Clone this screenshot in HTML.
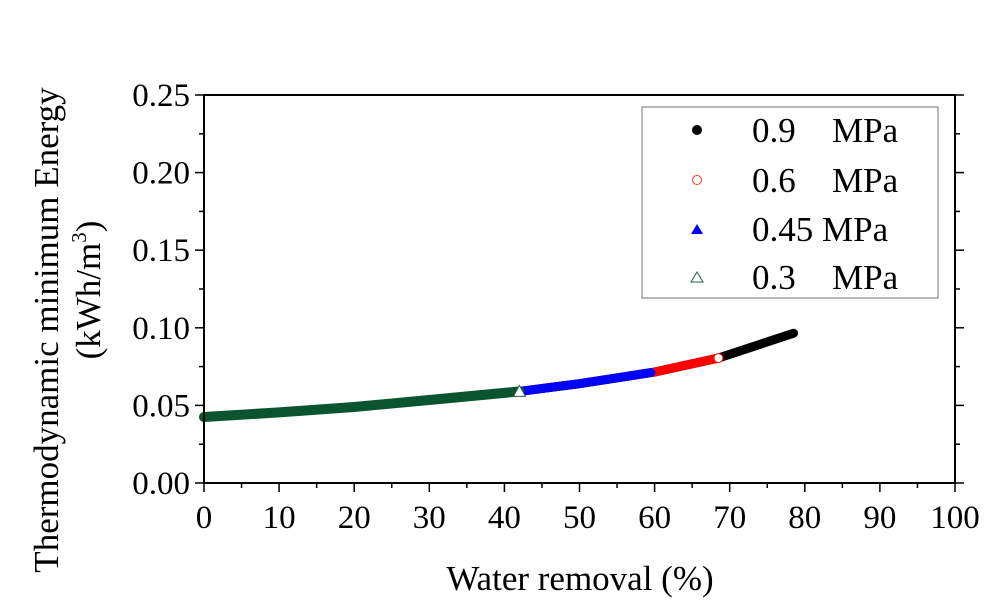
<!DOCTYPE html>
<html><head><meta charset="utf-8"><style>
body{margin:0;background:#fff}
svg{display:block;font-family:"Liberation Serif",serif}
</style></head><body>
<svg id="chart" width="1008" height="614" viewBox="0 0 1008 614" xmlns="http://www.w3.org/2000/svg">
<g id="plot"></g>
<g id="axes"></g>
<text x="580" y="590" font-size="35" text-anchor="middle">Water removal (%)</text>
<text transform="translate(58,330) rotate(-90)" font-size="35" text-anchor="middle">Thermodynamic minimum Energy</text>
<text transform="translate(100,290) rotate(-90)" font-size="35" text-anchor="middle">(kWh/m<tspan font-size="21" dy="-14">3</tspan><tspan dy="14">)</tspan></text>
<g>
<rect x="642" y="107" width="296" height="191" fill="#fff" stroke="#888" stroke-width="1.2"/>
<circle cx="697" cy="130" r="5" fill="#000"/>
<text x="752" y="142" font-size="35">0.9</text><text x="832" y="142" font-size="35">MPa</text>
<circle cx="697" cy="180" r="4.5" fill="#fff" stroke="#f33" stroke-width="1"/>
<text x="752" y="192" font-size="35">0.6</text><text x="832" y="192" font-size="35">MPa</text>
<polygon points="691,234 703,234 697,224" fill="#00f"/>
<text x="752" y="241" font-size="35">0.45 MPa</text>
<polygon points="691,282 703,282 697,272" fill="#fff" stroke="#264" stroke-width="1"/>
<text x="752" y="289" font-size="35">0.3</text><text x="832" y="289" font-size="35">MPa</text>
</g>
</svg>
<script>
const xCurve = [0, 10, 20, 30, 42, 50, 60, 68.5, 78.5];
const yCurve = [0.0425, 0.0455, 0.049, 0.0535, 0.059, 0.064, 0.0715, 0.0805, 0.0965];
const seriesNames = ["0.9", "0.6", "0.45", "0.3"];
const seriesEnd = [78.5, 68.5, 59.5, 42];
const seriesColors = ["#000", "#f00", "#00f", "#0a5530"];
const xTicks = [0,10,20,30,40,50,60,70,80,90,100];
const yTicks = [0,0.05,0.10,0.15,0.20,0.25];
const yTickLabels = ["0.00","0.05","0.10","0.15","0.20","0.25"];
const NS="http://www.w3.org/2000/svg";
const X0=204,X1=955,Y0=483,Y1=95;
const sx=v=>X0+(v-0)/(100-0)*(X1-X0);
const sy=v=>Y0-(v-0)/(0.25-0)*(Y0-Y1);
function interp(x){for(let i=0;i<xCurve.length-1;i++){if(x<=xCurve[i+1]){const t=(x-xCurve[i])/(xCurve[i+1]-xCurve[i]);return yCurve[i]+t*(yCurve[i+1]-yCurve[i]);}}return yCurve[yCurve.length-1];}
const plot=document.getElementById('plot'), axes=document.getElementById('axes');
function mk(tag,attrs,parent){const e=document.createElementNS(NS,tag);for(const k in attrs)e.setAttribute(k,attrs[k]);parent.appendChild(e);return e;}
seriesNames.forEach((n,si)=>{
  const end=seriesEnd[si];const pts=[];
  for(let i=0;i<xCurve.length;i++){if(xCurve[i]<end)pts.push(sx(xCurve[i])+','+sy(yCurve[i]));}
  pts.push(sx(end)+','+sy(interp(end)));
  const pl=mk('polyline',{points:pts.join(' '),fill:'none',stroke:seriesColors[si],'stroke-width':si==3?10:9,'stroke-linecap':'round'},plot);
  
  
  const ex=sx(end),ey=sy(interp(end));
  let m;
  if(si==1){m=mk('circle',{cx:ex,cy:ey,r:4.5,fill:'#fff',stroke:'#f00'},plot);}
  else if(si==3){m=mk('polygon',{points:(ex-6)+','+(ey+5)+' '+(ex+6)+','+(ey+5)+' '+ex+','+(ey-6),fill:'#fff',stroke:'#264'},plot);}
  if(m){
  }
});
const fr=mk('rect',{x:X0,y:Y1,width:X1-X0,height:Y0-Y1,fill:'none',stroke:'#000','stroke-width':2},axes);


xTicks.forEach((v,i)=>{
  const x=sx(v);
  mk('line',{x1:x,y1:Y0,x2:x,y2:Y0+9,stroke:'#000','stroke-width':1.5},axes);
  if(i<xTicks.length-1){const xm=sx(v+5);mk('line',{x1:xm,y1:Y0,x2:xm,y2:Y0+5,stroke:'#000','stroke-width':1.5},axes);}
  const t=mk('text',{x:x,y:Y0+45,'font-size':33,'text-anchor':'middle'},axes);t.textContent=v;
  
  
});
yTicks.forEach((v,i)=>{
  const y=sy(v);
  mk('line',{x1:X0-9,y1:y,x2:X0,y2:y,stroke:'#000','stroke-width':1.5},axes);
  mk('line',{x1:X1,y1:y,x2:X1+9,y2:y,stroke:'#000','stroke-width':1.5},axes);
  if(i<yTicks.length-1){const ym=sy(v+0.025);mk('line',{x1:X0-5,y1:ym,x2:X0,y2:ym,stroke:'#000','stroke-width':1.5},axes);mk('line',{x1:X1,y1:ym,x2:X1+5,y2:ym,stroke:'#000','stroke-width':1.5},axes);}
  const t=mk('text',{x:X0-14,y:y+11,'font-size':33,'text-anchor':'end'},axes);t.textContent=yTickLabels[i];
  
  
});
</script>
</body></html>
